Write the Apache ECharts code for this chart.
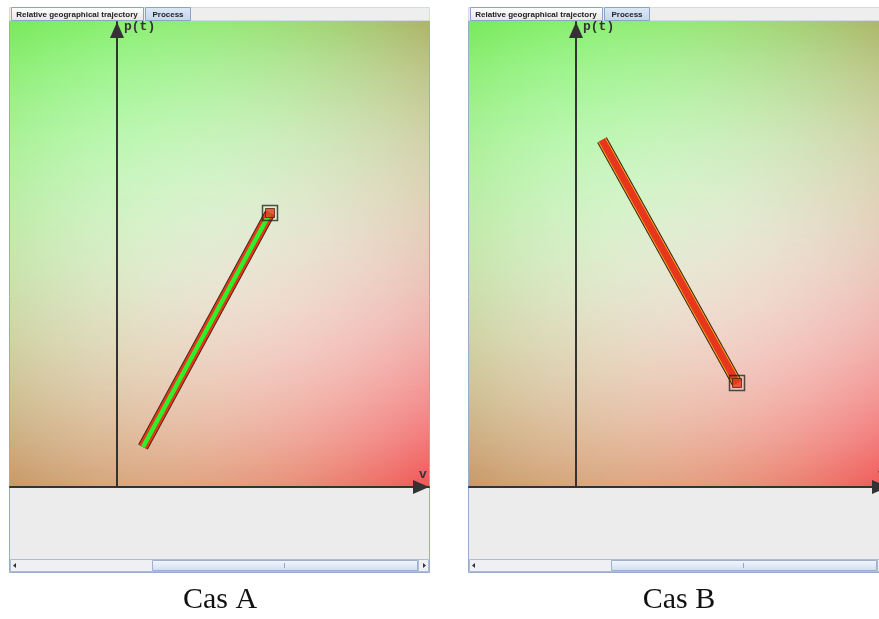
<!DOCTYPE html>
<html><head><meta charset="utf-8">
<script src="https://cdn.jsdelivr.net/npm/echarts@6/dist/echarts.min.js"></script>
<style>html,body{margin:0;padding:0;background:#fff}#c{width:879px;height:619px}</style>
</head><body><div id="c"></div><script>
// ---- data ----
const caseLabels = ['Cas A', 'Cas B'];
const tabLabels = ['Relative geographical trajectory', 'Process'];
const axisNames = ['v', 'p(t)'];
const vRange = [-1.07, 3.12];
const pRange = [0, 4.65];
const trajAv = [0.26, 1.53];
const trajAp = [0.40, 2.74];
const trajBv = [0.26, 1.61];
const trajBp = [3.47, 1.04];

// ---- layout / style ----
const panelOffsets = [0, 459];
const TOP = [[122,232,92],[150,232,120],[174,180,104]];
const MID = [[198,230,172],[228,234,210],[232,202,186]];
const BOT = [[200,152,104],[226,160,128],[240,86,86]];
function clamp(v){return Math.max(0,Math.min(255,Math.round(v)));}
function bez(a,m,b,t){
  return a.map((v,i)=>{const c = 2*m[i]-0.5*(a[i]+b[i]); return clamp((1-t)*(1-t)*a[i]+2*t*(1-t)*c+t*t*b[i]);});
}
function rgb(c){return 'rgb('+c.join(',')+')';}
function rowAt(t){return [0,1,2].map(i=>bez(TOP[i],MID[i],BOT[i],t));}

function chrome(ox, idx){
  const els = [];
  els.push({type:'rect', z:-20, shape:{x:ox+9.5,y:20.5,width:420,height:552}, style:{fill:'#ececec', stroke:'#9aaccc', lineWidth:1}});
  els.push({type:'rect', z:-19, shape:{x:ox+9.5,y:7.5,width:420,height:13}, style:{fill:'#eeeeee', stroke:'#d4dae4', lineWidth:1}});
  els.push({type:'rect', z:-18, shape:{x:ox+11.5,y:7.5,width:132,height:13}, style:{fill:{type:'linear',x:0,y:0,x2:0,y2:1,colorStops:[{offset:0,color:'#ffffff'},{offset:1,color:'#e6e6e6'}]}, stroke:'#8ea2c4', lineWidth:1}});
  els.push({type:'rect', z:-18, shape:{x:ox+145.5,y:7.5,width:45,height:13}, style:{fill:{type:'linear',x:0,y:0,x2:0,y2:1,colorStops:[{offset:0,color:'#dce8f6'},{offset:1,color:'#c2d6ee'}]}, stroke:'#8ea2c4', lineWidth:1}});
  els.push({type:'text', z:-17, style:{text:tabLabels[0], x:ox+77, y:14.5, align:'center', verticalAlign:'middle', fontSize:8, fontWeight:'bold', fontFamily:'Liberation Sans', fill:'#222'}});
  els.push({type:'text', z:-17, style:{text:tabLabels[1], x:ox+168, y:14.5, align:'center', verticalAlign:'middle', fontSize:8, fontWeight:'bold', fontFamily:'Liberation Sans', fill:'#222'}});
  const x0 = ox+10, y0 = 21, w = 419, h = 466, N = 120;
  for (let i=0;i<N;i++){
    const t = (i+0.5)/N;
    const r = rowAt(t);
    const stops = [];
    for (let k=0;k<=10;k++){ const s=k/10; stops.push({offset:s, color:rgb(bez(r[0],r[1],r[2],s))}); }
    els.push({type:'rect', z:-16, silent:true, shape:{x:x0,y:y0+i*h/N,width:w,height:h/N+1},
      style:{fill:{type:'linear',x:0,y:0,x2:1,y2:0,colorStops:stops}}});
  }
  els.push({type:'rect', z:-15, shape:{x:ox+10.5,y:559.5,width:418,height:12}, style:{fill:'#eef0f3', stroke:'#aebcd4', lineWidth:1}});
  els.push({type:'rect', z:-14, shape:{x:ox+152.5,y:560.5,width:265,height:10}, style:{fill:{type:'linear',x:0,y:0,x2:0,y2:1,colorStops:[{offset:0,color:'#f6f9fd'},{offset:1,color:'#d0ddf0'}]}, stroke:'#9cb0d0', lineWidth:1}});
  els.push({type:'line', z:-13, shape:{x1:ox+284.5,y1:563,x2:ox+284.5,y2:568}, style:{stroke:'#9aa8bc', lineWidth:1}});
  els.push({type:'polygon', z:-13, shape:{points:[[ox+13,565.5],[ox+16,563],[ox+16,568]]}, style:{fill:'#333'}});
  els.push({type:'line', z:-13, shape:{x1:ox+418.5,y1:560,x2:ox+418.5,y2:571}, style:{stroke:'#aebcd4', lineWidth:1}});
  els.push({type:'polygon', z:-13, shape:{points:[[ox+426,565.5],[ox+423,563],[ox+423,568]]}, style:{fill:'#333'}});
  els.push({type:'text', z:10, style:{text:caseLabels[idx], x:ox+220, y:600, align:'center', verticalAlign:'middle', fontSize:30, fontFamily:'Liberation Serif', fill:'#111'}});
  return els;
}

function pts(v,p){return v.map((x,i)=>[x,p[i]]);}

const grids = panelOffsets.map(ox=>({left:ox+10, top:22, width:419, height:465, containLabel:false, outerBoundsMode:'none'}));
const nameStyleBase = {fontFamily:'Liberation Mono', fontSize:13, fontWeight:'bold', color:'#333'};
const xAxes = panelOffsets.map((ox,i)=>({gridIndex:i, type:'value', min:vRange[0], max:vRange[1],
  name:axisNames[0], nameLocation:'end', nameGap:-6,
  nameTextStyle:Object.assign({}, nameStyleBase, {align:'center', verticalAlign:'bottom', padding:[0,0,6,0]}),
  axisLine:{show:true, onZero:false, symbol:['none','triangle'], symbolSize:[14,16], symbolOffset:[0,-8], lineStyle:{color:'#333', width:2}},
  axisTick:{show:false}, axisLabel:{show:false}, splitLine:{show:false}}));
const yAxes = panelOffsets.map((ox,i)=>({gridIndex:i, type:'value', min:pRange[0], max:pRange[1],
  name:axisNames[1], nameLocation:'end', nameGap:-5,
  nameTextStyle:Object.assign({}, nameStyleBase, {align:'left', verticalAlign:'middle', padding:[0,0,0,7]}),
  axisLine:{show:true, onZero:true, symbol:['none','triangle'], symbolSize:[14,16], symbolOffset:[0,-8], lineStyle:{color:'#333', width:2}},
  axisTick:{show:false}, axisLabel:{show:false}, splitLine:{show:false}}));

function trajSeries(i, data, layers){
  const out = layers.map((l,k)=>({type:'line', xAxisIndex:i, yAxisIndex:i, data:data, showSymbol:false, silent:true, z:3+k,
    lineStyle:{color:l[0], width:l[1], cap:'butt'}}));
  const end = [data[data.length-1]];
  out.push({type:'scatter', xAxisIndex:i, yAxisIndex:i, data:end, symbol:'rect', symbolSize:9, silent:true, z:8,
    itemStyle:{color:'#e8361c', borderColor:'#5a2010', borderWidth:1}});
  out.push({type:'scatter', xAxisIndex:i, yAxisIndex:i, data:end, symbol:'rect', symbolSize:15, silent:true, z:9,
    itemStyle:{color:'rgba(0,0,0,0)', borderColor:'#262626', borderWidth:1.5}});
  return out;
}

const series = [].concat(
  trajSeries(0, pts(trajAv, trajAp), [['#3b2416',11],['#e8361c',9],['#2ef02a',4.5]]),
  trajSeries(1, pts(trajBv, trajBp), [['#3b2416',11],['#f0a020',9],['#e8361c',7]])
);

const chart = echarts.init(document.getElementById('c'), null, {renderer:'canvas'});
chart.setOption({
  backgroundColor:'#ffffff',
  animation:false,
  grid:grids, xAxis:xAxes, yAxis:yAxes, series:series,
  graphic:{elements:[].concat(chrome(panelOffsets[0],0), chrome(panelOffsets[1],1))}
});
</script></body></html>
